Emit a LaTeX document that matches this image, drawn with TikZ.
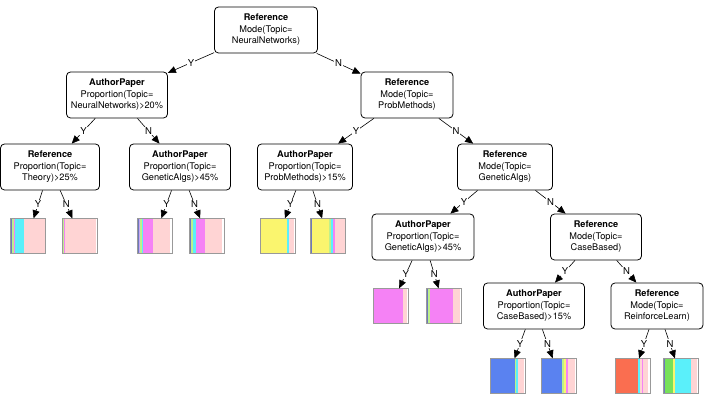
\documentclass[tikz,border=0pt]{standalone}
\usepackage{fontspec}
\setmainfont{TeX Gyre Heros}
\usetikzlibrary{arrows.meta}
% topic colours
\definecolor{slate}{RGB}{110,120,190}
\definecolor{lilac}{RGB}{200,170,240}
\definecolor{lgreen}{RGB}{190,240,140}
\definecolor{rgreen}{RGB}{120,225,90}
\definecolor{tcyan}{RGB}{90,240,250}
\definecolor{npink}{RGB}{255,212,212}
\definecolor{gmag}{RGB}{245,130,245}
\definecolor{pyellow}{RGB}{250,245,110}
\definecolor{cblue}{RGB}{90,130,240}
\definecolor{rtomato}{RGB}{250,110,80}
\newcommand{\leafnode}[3]{\node[leaf] (#1) at #2 {};
        \begin{scope}[shift={(#1.north west)}]
            \foreach \c/\w [remember=\xe as \xs (initially 0), evaluate=\w as \xe using \xs+\w] in {#3}
                \fill[\c] (\xs,0) rectangle (\xe,35);
        \end{scope}
        \draw[leafrim] (#1.north west) rectangle (#1.south east);}

\begin{document}
\begin{tikzpicture}[x=1pt, y=-1pt,
        tnode/.style = {draw, line width=0.8pt, rounded corners=4pt, align=center,
                        minimum height=46pt, minimum width=92pt, inner sep=2pt,
                        font=\fontsize{9.2}{11.4}\selectfont},
        leaf/.style = {minimum size=35pt, inner sep=0pt},
        leafrim/.style = {draw=gray!80, line width=0.6pt},
        edge/.style = {-{Triangle[length=8pt,width=7pt]}, line width=0.6pt},
        lbl/.style = {fill=white, inner sep=1pt, font=\fontsize{9.5}{10}\selectfont}]

    \useasboundingbox (0,0) rectangle (710,406);

    % decision nodes
    \node[tnode, minimum width=103pt] (root) at (266,30)
        {\textbf{Reference}\\Mode(Topic=\\NeuralNetworks)};
    \node[tnode, minimum width=101pt] (ap1) at (117,95)
        {\textbf{AuthorPaper}\\Proportion(Topic=\\NeuralNetworks)>20\%};
    \node[tnode] (ref2) at (407,95)
        {\textbf{Reference}\\Mode(Topic=\\ProbMethods)};
    \node[tnode, minimum width=99pt] (ref3) at (50,167)
        {\textbf{Reference}\\Proportion(Topic=\\Theory)>25\%};
    \node[tnode, minimum width=101pt] (apga) at (180,167)
        {\textbf{AuthorPaper}\\Proportion(Topic=\\GeneticAlgs)>45\%};
    \node[tnode, minimum width=95pt] (appm) at (305,167)
        {\textbf{AuthorPaper}\\Proportion(Topic=\\ProbMethods)>15\%};
    \node[tnode, minimum width=95pt] (refga) at (505,167)
        {\textbf{Reference}\\Mode(Topic=\\GeneticAlgs)};
    \node[tnode, minimum width=102pt] (apgb) at (423,237)
        {\textbf{AuthorPaper}\\Proportion(Topic=\\GeneticAlgs)>45\%};
    \node[tnode, minimum width=91pt] (refcb) at (596,237)
        {\textbf{Reference}\\Mode(Topic=\\CaseBased)};
    \node[tnode, minimum width=101pt] (apcb) at (534,306)
        {\textbf{AuthorPaper}\\Proportion(Topic=\\CaseBased)>15\%};
    \node[tnode] (refrl) at (657,306)
        {\textbf{Reference}\\Mode(Topic=\\ReinforceLearn)};

    % leaves: topic proportions
    \leafnode{l1}{(28,236)}{slate/2, lgreen/2, gmag/1, tcyan/9, npink/21}
    \leafnode{l2}{(80,236)}{lgreen/2, gmag/1, npink/31, white/1}
    \leafnode{l3}{(155,236)}{slate/2, lilac/1, lgreen/2, tcyan/1, gmag/10, npink/17, white/2}
    \leafnode{l4}{(207,236)}{slate/2, lgreen/2, tcyan/3, gmag/9, npink/17, white/2}
    \leafnode{l5}{(278,236)}{pyellow/27, tcyan/2, npink/5, white/1}
    \leafnode{l6}{(328,236)}{slate/2, pyellow/17, lgreen/2, tcyan/2, gmag/2, npink/10}
    \leafnode{l7}{(391,306)}{gmag/30, npink/4, white/1}
    \leafnode{l8}{(444,306)}{slate/2, lgreen/2, gmag/23, npink/7, white/1}
    \leafnode{l9}{(508,376)}{cblue/25, lgreen/1, tcyan/2, npink/6, white/1}
    \leafnode{l10}{(559,376)}{cblue/21, lgreen/2, pyellow/2, gmag/2, npink/7, white/1}
    \leafnode{l11}{(633,376)}{rtomato/23, tcyan/2, npink/2, gmag/1, npink/5, white/2}
    \leafnode{l12}{(681,376)}{slate/2, rgreen/8, pyellow/2, tcyan/16, npink/6, white/1}

    % branches
    \draw[edge] (root) -- node[lbl]{Y} (ap1);
    \draw[edge] (root) -- node[lbl]{N} (ref2);
    \draw[edge] (ap1) -- node[lbl]{Y} (ref3);
    \draw[edge] (ap1) -- node[lbl]{N} (apga);
    \draw[edge] (ref2) -- node[lbl]{Y} (appm);
    \draw[edge] (ref2) -- node[lbl]{N} (refga);
    \draw[edge] (refga) -- node[lbl]{Y} (apgb);
    \draw[edge] (refga) -- node[lbl]{N} (refcb);
    \draw[edge] (refcb) -- node[lbl]{Y} (apcb);
    \draw[edge] (refcb) -- node[lbl]{N} (refrl);
    \draw[edge] (ref3) -- node[lbl]{Y} (l1);
    \draw[edge] (ref3) -- node[lbl]{N} (l2);
    \draw[edge] (apga) -- node[lbl]{Y} (l3);
    \draw[edge] (apga) -- node[lbl]{N} (l4);
    \draw[edge] (appm) -- node[lbl]{Y} (l5);
    \draw[edge] (appm) -- node[lbl]{N} (l6);
    \draw[edge] (apgb) -- node[lbl]{Y} (l7);
    \draw[edge] (apgb) -- node[lbl]{N} (l8);
    \draw[edge] (apcb) -- node[lbl]{Y} (l9);
    \draw[edge] (apcb) -- node[lbl]{N} (l10);
    \draw[edge] (refrl) -- node[lbl]{Y} (l11);
    \draw[edge] (refrl) -- node[lbl]{N} (l12);

\end{tikzpicture}
\end{document}
